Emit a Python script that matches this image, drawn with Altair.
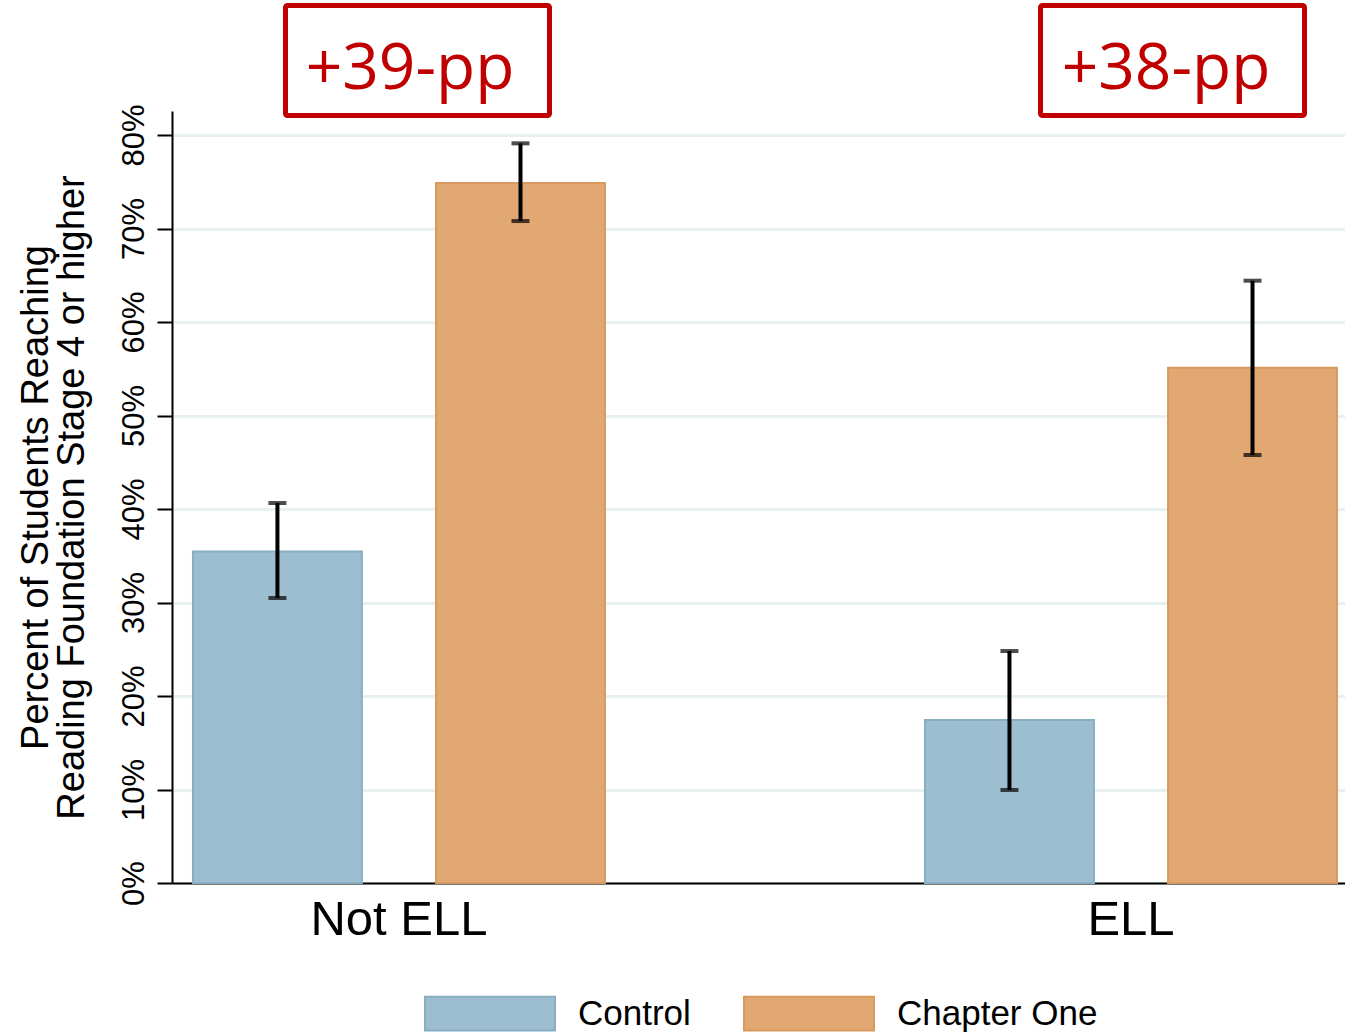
import altair as alt
import pandas as pd

# Share of students reaching Reading Foundation Stage 4 or higher, with 95% CIs
groups = ["Not ELL", "Not ELL", "ELL", "ELL"]
series = ["Control", "Chapter One", "Control", "Chapter One"]
share = [0.3545, 0.7487, 0.1743, 0.5511]
ci_low = [0.3048, 0.7080, 0.0995, 0.4578]
ci_high = [0.4064, 0.7911, 0.2481, 0.6442]

group_order = ["Not ELL", "ELL"]
series_order = ["Control", "Chapter One"]
fill_colors = ["#9dbed1", "#e2a873"]
edge_colors = ["#88aec4", "#d89a5e"]

df = pd.DataFrame({
    "group": groups,
    "series": series,
    "share": share,
    "lo": ci_low,
    "hi": ci_high,
})

# Treatment minus control gap, in percentage points, for each group
gaps = {}
for g in group_order:
    sub = df[df["group"] == g].set_index("series")["share"]
    gaps[g] = f"+{round((sub['Chapter One'] - sub['Control']) * 100)}-pp"

FONT = "Liberation Sans"
W, H = 1173, 772

x_enc = alt.X(
    "group:N",
    sort=group_order,
    scale=alt.Scale(paddingInner=0.4372, paddingOuter=0.0198, align=0.7234),
    axis=alt.Axis(
        title=None,
        labelAngle=0,
        labelFont=FONT,
        labelFontSize=49,
        labelColor="black",
        labelPadding=12,
        ticks=False,
        domainColor="black",
        domainWidth=2,
        grid=False,
    ),
)
xoff_enc = alt.XOffset(
    "series:N",
    sort=series_order,
    scale=alt.Scale(paddingInner=0.305, paddingOuter=0),
)
y_scale = alt.Scale(domain=[0, 0.8257], nice=False, zero=True)

legend_cfg = dict(
    title=None,
    orient="none",
    direction="horizontal",
    legendX=252,
    legendY=836.5,
    padding=0,
    symbolType="M-1,-0.26H1V0.26H-1Z",
    symbolSize=16900,
    symbolStrokeWidth=2,
    labelFont=FONT,
    labelFontSize=35,
    labelColor="black",
    labelOffset=22,
    labelLimit=0,
    columnPadding=49,
)

bars = alt.Chart(df).mark_bar(strokeWidth=2).encode(
    x=x_enc,
    xOffset=xoff_enc,
    y=alt.Y(
        "share:Q",
        scale=y_scale,
        axis=alt.Axis(
            title=["Percent of Students Reaching", "Reading Foundation Stage 4 or higher"],
            titleFont=FONT,
            titleFontSize=38,
            titleFontWeight="normal",
            titleColor="black",
            titleLineHeight=36,
            titleAngle=270,
            titleAlign="center",
            titleBaseline="middle",
            titleX=-136,
            titleY=386,
            values=[0, 0.1, 0.2, 0.3, 0.4, 0.5, 0.6, 0.7, 0.8],
            format=".0%",
            labelFont=FONT,
            labelFontSize=31,
            labelColor="black",
            labelAngle=270,
            labelAlign="center",
            labelBaseline="alphabetic",
            labelPadding=14,
            tickSize=15,
            tickWidth=2,
            tickColor="black",
            domainColor="black",
            domainWidth=2,
            grid=True,
            gridColor="#e9f0f0",
            gridWidth=3,
        ),
    ),
    fill=alt.Fill(
        "series:N",
        sort=series_order,
        scale=alt.Scale(domain=series_order, range=fill_colors),
        legend=alt.Legend(**legend_cfg),
    ),
    stroke=alt.Stroke(
        "series:N",
        sort=series_order,
        scale=alt.Scale(domain=series_order, range=edge_colors),
        legend=alt.Legend(**legend_cfg),
    ),
)

whisker = alt.Chart(df).mark_rule(color="black", strokeWidth=4).encode(
    x=alt.X("group:N", sort=group_order),
    xOffset=alt.XOffset("series:N", sort=series_order),
    y=alt.Y("lo:Q", scale=y_scale),
    y2="hi:Q",
)
cap_hi = alt.Chart(df).mark_tick(color="black", thickness=4, size=18).encode(
    x=alt.X("group:N", sort=group_order),
    xOffset=alt.XOffset("series:N", sort=series_order),
    y=alt.Y("hi:Q", scale=y_scale),
)
cap_lo = alt.Chart(df).mark_tick(color="black", thickness=4, size=18).encode(
    x=alt.X("group:N", sort=group_order),
    xOffset=alt.XOffset("series:N", sort=series_order),
    y=alt.Y("lo:Q", scale=y_scale),
)

# Boxed gap callouts above each group
RED = "#C00000"
callouts = []
for g, (x0, x1, xt) in zip(group_order, [(113.5, 377.5, 238), (868.5, 1132.5, 994)]):
    one = pd.DataFrame({"label": [gaps[g]]})
    box = alt.Chart(one).mark_rect(
        fill="white", stroke=RED, strokeWidth=5, cornerRadius=2
    ).encode(
        x=alt.value(x0), x2=alt.value(x1), y=alt.value(-105.5), y2=alt.value(4.5)
    )
    txt = alt.Chart(one).mark_text(
        font="Open Sans", fontSize=64, color=RED, align="center", baseline="alphabetic"
    ).encode(text="label:N", x=alt.value(xt), y=alt.value(-22))
    callouts += [box, txt]

chart = alt.layer(bars, whisker, cap_hi, cap_lo, *callouts).resolve_scale(
    x="shared", y="shared"
).properties(
    width=W,
    height=H,
    autosize=alt.AutoSizeParams(type="none"),
    padding={"left": 172, "top": 111, "right": 0, "bottom": 151},
    background="white",
).configure_view(stroke=None)

chart.save("out.html", embed_options={"renderer": "svg", "actions": False})
